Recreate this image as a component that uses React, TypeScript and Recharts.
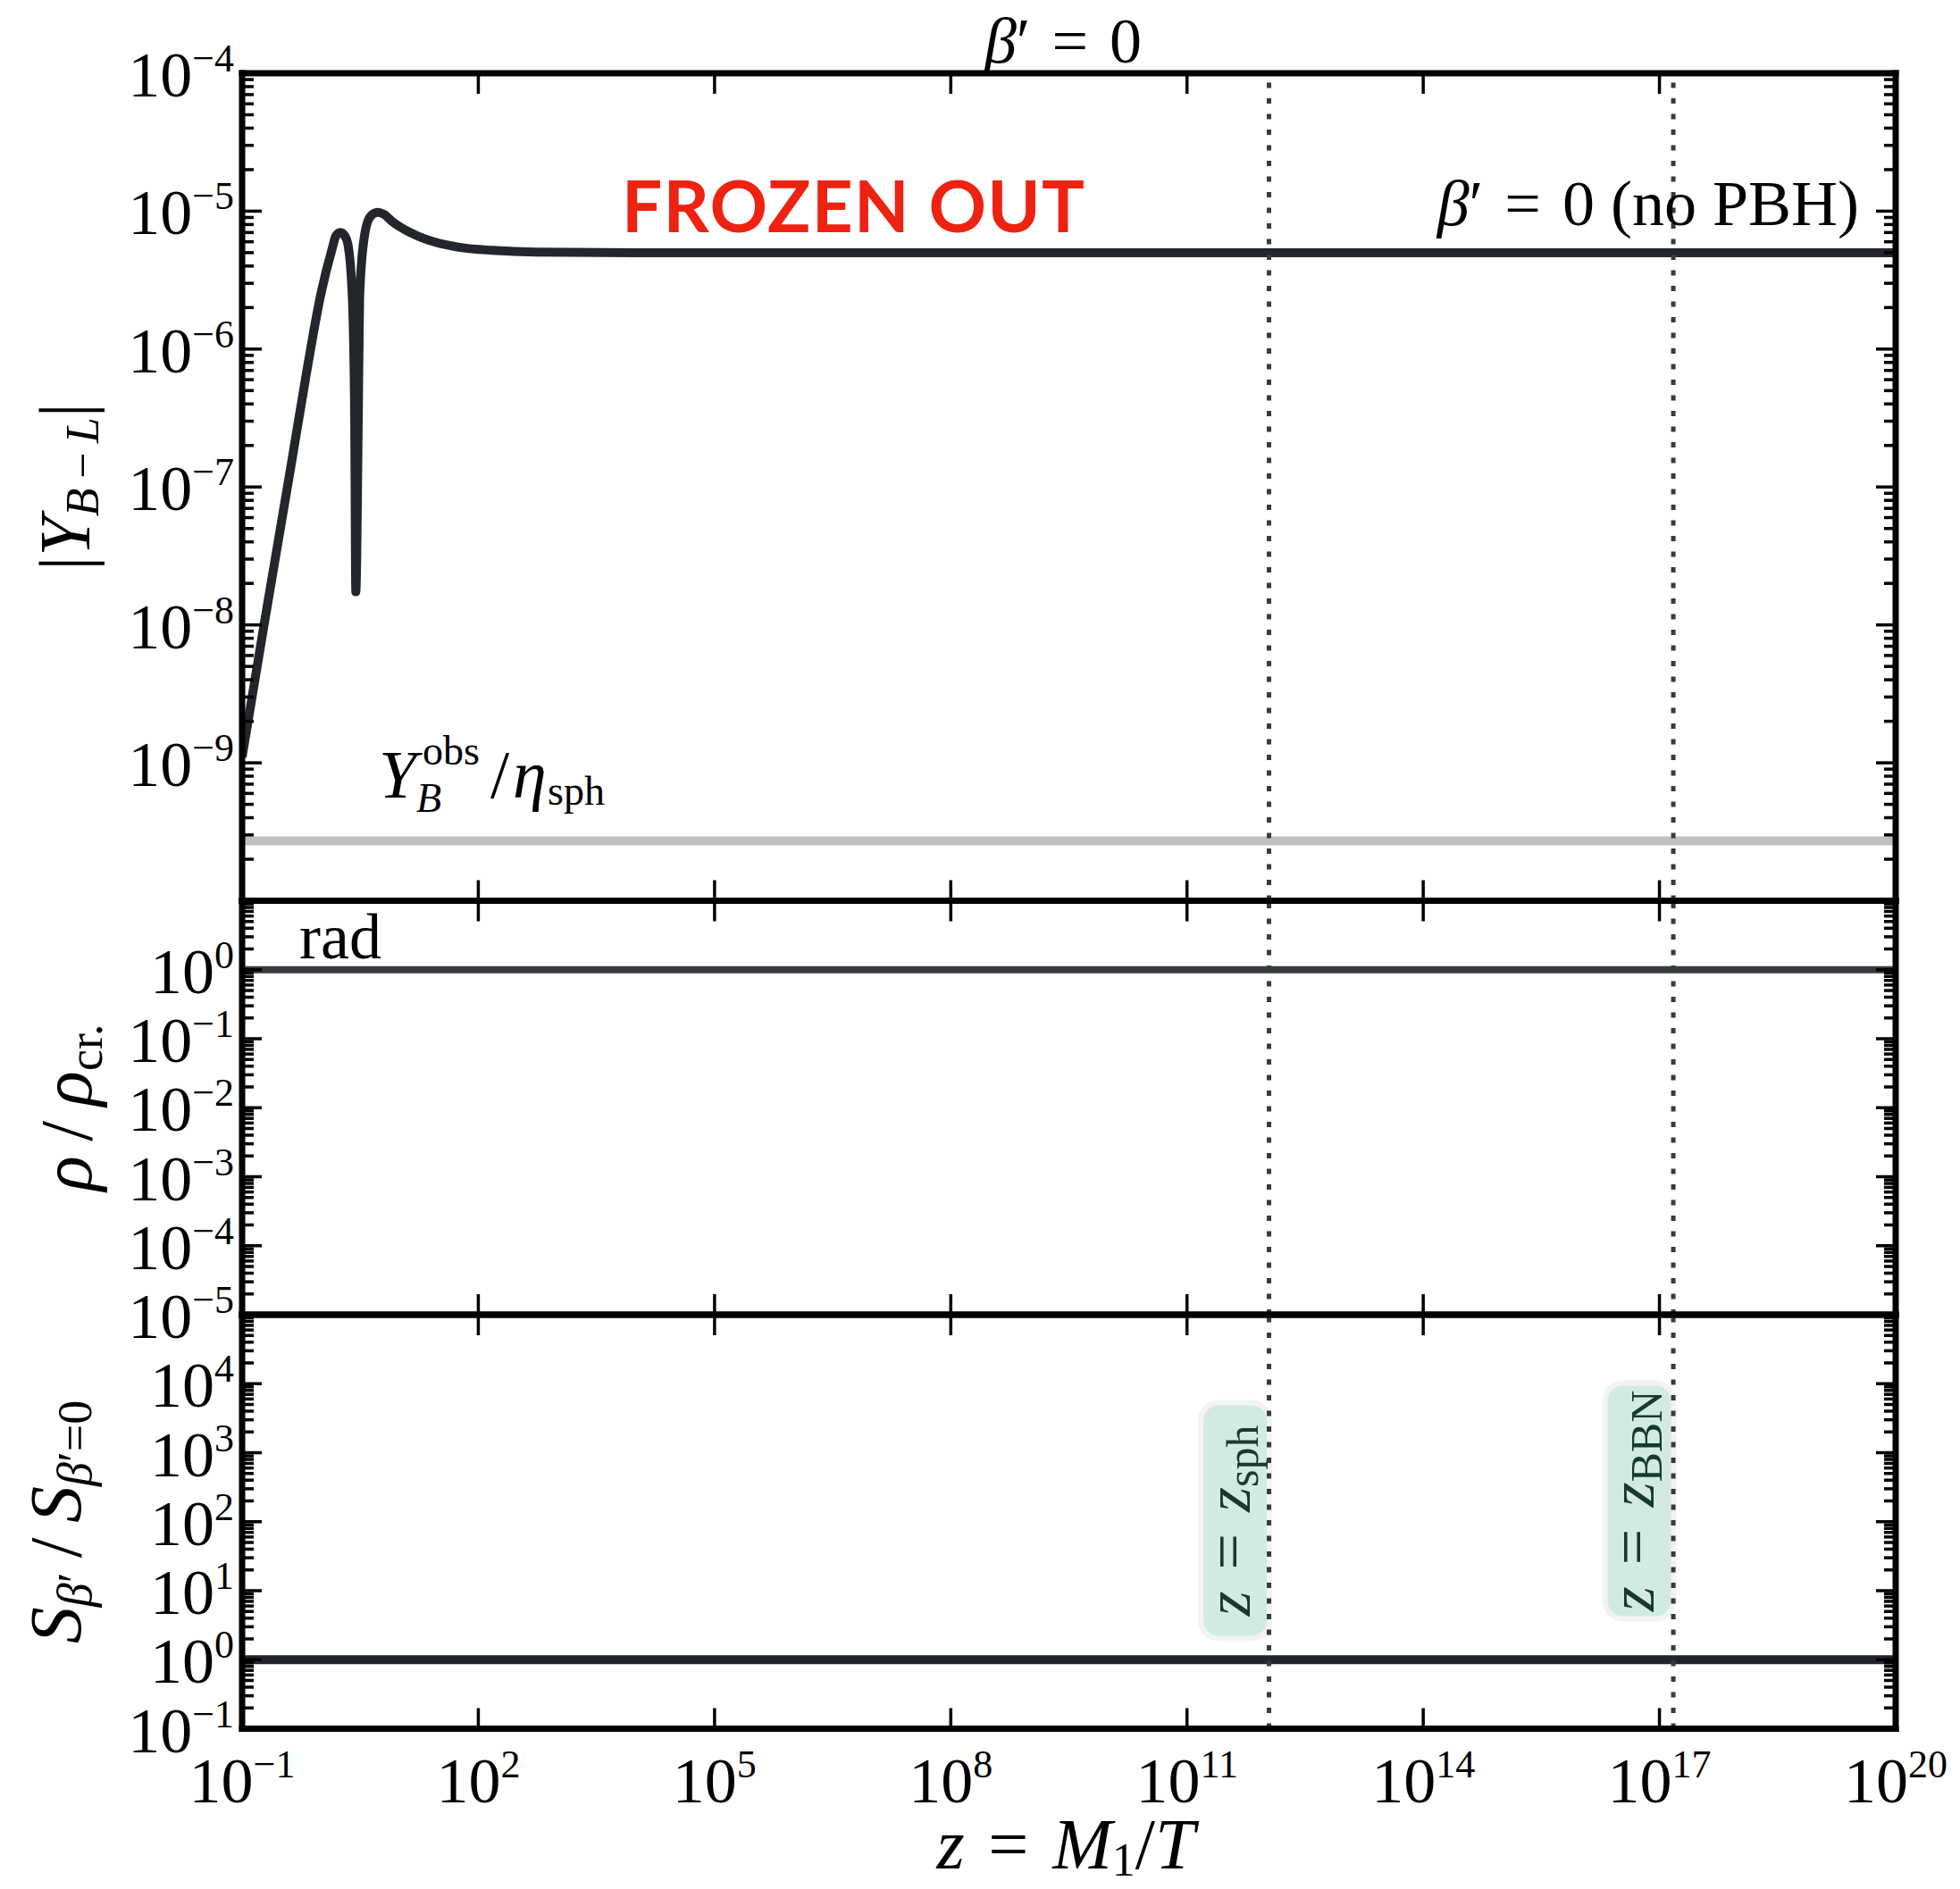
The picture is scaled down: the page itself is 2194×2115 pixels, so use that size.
import React from 'react';
import { LineChart, Line, XAxis, YAxis, ReferenceLine } from 'recharts';

// ---- layout (pixels) ----
const W = 2194;
const H = 2115;
const FRAME_RIGHT = 2122;
const Y_AXIS_W = 271;
const PANEL_TOP = [82, 1008.5, 1472];
const PANEL_BOTTOM = [1008.5, 1472, 1935.5];

const SERIF = "'Liberation Serif', 'Times New Roman', 'DejaVu Serif', serif";
const SANS = "Lato, 'Open Sans', 'Liberation Sans', sans-serif";

// ---- x axis: z = M1/T ----
const X_DOMAIN: [number, number] = [1e-1, 1e20];
const X_TICK_EXPONENTS = [-1, 2, 5, 8, 11, 14, 17, 20];

// ---- top panel: |Y_{B-L}| ----
const Z_YBL = [0.1, 0.19, 0.42, 0.645, 1.0, 1.41, 1.55, 1.77, 2.02, 2.2, 2.51, 2.69, 2.78, 2.99, 3.11, 3.55, 4.23, 5.25, 6.3, 8.1, 16, 30, 60, 150, 530, 1e4, 1e20];
const Y_BL = [1.1e-9, 1.0e-8, 1.45e-7, 6.3e-7, 2.5e-6, 5.5e-6, 6.6e-6, 7.0e-6, 6.6e-6, 5.8e-6, 2.4e-6, 3.2e-7, 1.74e-8, 3.2e-7, 2.4e-6, 6.4e-6, 9.1e-6, 9.8e-6, 9.5e-6, 8.4e-6, 6.7e-6, 5.9e-6, 5.45e-6, 5.2e-6, 5.05e-6, 5.0e-6, 5.0e-6];
const Y_OBS_OVER_ETA = 2.72e-10;
const P1_Y_RANGE = [-10, -4];
const P1_Y_LABELS = [-9, -8, -7, -6, -5, -4];

// ---- middle panel: rho / rho_cr ----
const Z_RAD = [0.1, 1e20];
const RHO_RAD = [1, 1];
const P2_Y_RANGE = [-5, 1];
const P2_Y_LABELS = [-5, -4, -3, -2, -1, 0];

// ---- bottom panel: S_beta' / S_beta'=0 ----
const Z_S = [0.1, 1e20];
const S_RATIO = [1, 1];
const P3_Y_RANGE = [-1, 5];
const P3_Y_LABELS = [-1, 0, 1, 2, 3, 4];

// ---- epochs ----
const Z_SPH = 1.1e12;
const Z_BBN = 1.5e17;

const pow10 = (e: number) => Number(`1e${e}`);
const X_TICKS = X_TICK_EXPONENTS.map(pow10);

const logTicks = (lo: number, hi: number) => {
  const t: number[] = [];
  for (let e = lo; e < hi; e++) {
    t.push(pow10(e));
    for (let m = 2; m <= 9; m++) t.push(Number(`${m}e${e}`));
  }
  t.push(pow10(hi));
  return t;
};

const zip = (xs: number[], ys: number[]) => xs.map((z, i) => ({ z, y: ys[i] }));
const curveData = zip(Z_YBL, Y_BL);
const radData = zip(Z_RAD, RHO_RAD);
const sData = zip(Z_S, S_RATIO);

const isMajor = (v: number) => {
  const l = Math.log10(v);
  return Math.abs(l - Math.round(l)) < 1e-6;
};
const supText = (e: number) => (e < 0 ? `\u2212${-e}` : `${e}`);

const PowLabel = ({ x, y, exp, anchor }: { x: number; y: number; exp: number; anchor: 'start' | 'middle' | 'end' }) => (
  <text x={x} y={y} textAnchor={anchor} fontFamily={SERIF} fill="#000" fontSize={72}>
    10<tspan fontSize={44} dy={-28}>{supText(exp)}</tspan>
  </text>
);

const TICK_W = 3.5;
const MAJOR_LEN = 22;
const MINOR_LEN = 13;
const SPINE = { stroke: '#000', strokeWidth: 7, strokeLinecap: 'square' as const };

const leftTick = (labels: number[]) => (props: any) => {
  const { x, y, payload } = props;
  const v = payload.value;
  const major = isMajor(v);
  const exp = Math.round(Math.log10(v));
  return (
    <g>
      <line x1={x} y1={y} x2={x + (major ? MAJOR_LEN : MINOR_LEN)} y2={y} stroke="#000" strokeWidth={TICK_W} />
      {major && labels.includes(exp) ? <PowLabel x={x - 9} y={y + 26} exp={exp} anchor="end" /> : null}
    </g>
  );
};

const rightTick = (props: any) => {
  const { x, y, payload } = props;
  const major = isMajor(payload.value);
  return <line x1={x} y1={y} x2={x - (major ? MAJOR_LEN : MINOR_LEN)} y2={y} stroke="#000" strokeWidth={TICK_W} />;
};

const bottomTick = (withLabels: boolean) => (props: any) => {
  const { x, y, payload } = props;
  const exp = Math.round(Math.log10(payload.value));
  return (
    <g>
      <line x1={x} y1={y} x2={x} y2={y - 23} stroke="#000" strokeWidth={TICK_W} />
      {withLabels ? <PowLabel x={x} y={y + 82} exp={exp} anchor="middle" /> : null}
    </g>
  );
};

const topTick = (props: any) => {
  const { x, y } = props;
  return <line x1={x} y1={y} x2={x} y2={y + 23} stroke="#000" strokeWidth={TICK_W} />;
};

const DOT_STYLE = { stroke: '#3a3a3a', strokeWidth: 5, strokeDasharray: '6 11.5' };

// dotted epoch marker with an optional rotated tag sitting against it
const epochShape = (sub: string | null, lift: number) => (p: any) => {
  const { x1, y1, x2, y2 } = p;
  const lineX = x1;
  const plotBottom = Math.max(y1, y2);
  const boxW = 77;
  const boxH = 264;
  const boxRight = lineX + 0.5;
  const boxBottom = plotBottom - lift;
  return (
    <g>
      {sub ? (
        <g>
          <rect x={boxRight - boxW} y={boxBottom - boxH} width={boxW} height={boxH} rx={20} ry={20} fill="#d2ebe2" stroke="#f3f3f3" strokeWidth={6} />
          <text
            transform={`translate(${lineX - 22},${boxBottom - boxH / 2}) rotate(-90)`}
            textAnchor="middle"
            fontFamily={SERIF}
            fontSize={72}
            fill="#173a2b"
          >
            <tspan fontStyle="italic">z</tspan>
            <tspan>{'\u2004=\u2004'}</tspan>
            <tspan fontStyle="italic">z</tspan>
            <tspan fontSize={50} dy={9}>{sub}</tspan>
          </text>
        </g>
      ) : null}
      <line x1={x1} y1={y1} x2={x2} y2={y2} {...DOT_STYLE} />
    </g>
  );
};

type PanelProps = {
  index: number;
  yRange: number[];
  yLabels: number[];
  xLabels: boolean;
  children: React.ReactNode;
};

// Axes are given a 1px band (a zero-sized axis is not rendered); margins absorb it.
function Panel({ index, yRange, yLabels, xLabels, children }: PanelProps) {
  const top = PANEL_TOP[index];
  const bottom = PANEL_BOTTOM[index];
  const yDomain: [number, number] = [pow10(yRange[0]), pow10(yRange[1])];
  const yTicks = logTicks(yRange[0], yRange[1]);
  return (
    <div style={{ position: 'absolute', left: 0, top: 0 }}>
      <LineChart width={W} height={H} margin={{ top: top - 1, bottom: H - bottom - 1, left: 0, right: W - FRAME_RIGHT - 1 }}>
        <XAxis
          xAxisId="b"
          dataKey="z"
          type="number"
          scale="log"
          domain={X_DOMAIN}
          allowDataOverflow
          ticks={X_TICKS}
          interval={0}
          orientation="bottom"
          height={1}
          tickSize={0}
          tickMargin={0}
          tickLine={false}
          axisLine={SPINE}
          tick={bottomTick(xLabels)}
        />
        <XAxis
          xAxisId="t"
          dataKey="z"
          type="number"
          scale="log"
          domain={X_DOMAIN}
          allowDataOverflow
          ticks={X_TICKS}
          interval={0}
          orientation="top"
          height={1}
          tickSize={0}
          tickMargin={0}
          tickLine={false}
          axisLine={SPINE}
          tick={topTick}
        />
        <YAxis
          yAxisId="l"
          type="number"
          scale="log"
          domain={yDomain}
          allowDataOverflow
          ticks={yTicks}
          interval={0}
          orientation="left"
          width={Y_AXIS_W}
          tickSize={0}
          tickMargin={0}
          tickLine={false}
          axisLine={SPINE}
          tick={leftTick(yLabels)}
        />
        <YAxis
          yAxisId="r"
          type="number"
          scale="log"
          domain={yDomain}
          allowDataOverflow
          ticks={yTicks}
          interval={0}
          orientation="right"
          width={1}
          tickSize={0}
          tickMargin={0}
          tickLine={false}
          axisLine={SPINE}
          tick={rightTick}
        />
        {children}
      </LineChart>
    </div>
  );
}

export default function App() {
  return (
    <div style={{ position: 'absolute', left: 0, top: 0, width: W, height: H, background: '#fff', overflow: 'hidden' }}>
      {/* |Y_{B-L}| */}
      <Panel index={0} yRange={P1_Y_RANGE} yLabels={P1_Y_LABELS} xLabels={false}>
        <ReferenceLine xAxisId="b" yAxisId="l" y={Y_OBS_OVER_ETA} stroke="#c0c0c0" strokeWidth={10} />
        <Line
          xAxisId="b"
          yAxisId="l"
          data={curveData}
          dataKey="y"
          type="monotone"
          stroke="#23262a"
          strokeWidth={10}
          strokeLinejoin="round"
          dot={false}
          isAnimationActive={false}
        />
        <ReferenceLine xAxisId="b" yAxisId="l" x={Z_SPH} shape={epochShape(null, 0)} />
        <ReferenceLine xAxisId="b" yAxisId="l" x={Z_BBN} shape={epochShape(null, 0)} />
      </Panel>

      {/* rho / rho_cr */}
      <Panel index={1} yRange={P2_Y_RANGE} yLabels={P2_Y_LABELS} xLabels={false}>
        <Line xAxisId="b" yAxisId="l" data={radData} dataKey="y" type="linear" stroke="#373b40" strokeWidth={8} dot={false} isAnimationActive={false} />
        <ReferenceLine xAxisId="b" yAxisId="l" x={Z_SPH} shape={epochShape(null, 0)} />
        <ReferenceLine xAxisId="b" yAxisId="l" x={Z_BBN} shape={epochShape(null, 0)} />
      </Panel>

      {/* entropy ratio */}
      <Panel index={2} yRange={P3_Y_RANGE} yLabels={P3_Y_LABELS} xLabels>
        <Line xAxisId="b" yAxisId="l" data={sData} dataKey="y" type="linear" stroke="#222528" strokeWidth={10} dot={false} isAnimationActive={false} />
        <ReferenceLine xAxisId="b" yAxisId="l" x={Z_SPH} shape={epochShape('sph', 101)} />
        <ReferenceLine xAxisId="b" yAxisId="l" x={Z_BBN} shape={epochShape('BBN', 123)} />
      </Panel>

      <svg width={W} height={H} style={{ position: 'absolute', left: 0, top: 0 }} fontFamily={SERIF} fill="#000">
        {/* title */}
        <text x={1190} y={70} textAnchor="middle" fontSize={72}>
          <tspan fontStyle="italic">β</tspan>
          <tspan>{'\u2032\u2004=\u20040'}</tspan>
        </text>

        <text x={696} y={260} fontFamily={SANS} fontWeight={700} fontSize={80} fill="#ee2211" textLength={518} lengthAdjust="spacing">
          FROZEN OUT
        </text>

        <text x={2081} y={252} textAnchor="end" fontSize={72}>
          <tspan fontStyle="italic">β</tspan>
          <tspan>{'\u2032\u2004=\u20040 (no PBH)'}</tspan>
        </text>

        {/* observed asymmetry label */}
        <text x={424} y={893} fontSize={76} fontStyle="italic">Y</text>
        <text x={473} y={856} fontSize={46}>obs</text>
        <text x={466} y={909} fontSize={46} fontStyle="italic">B</text>
        <text x={549} y={893} fontSize={76}>/</text>
        <text x={574} y={893} fontSize={76} fontStyle="italic">η</text>
        <text x={613} y={901} fontSize={46}>sph</text>

        <text x={335} y={1073} fontSize={72}>rad</text>

        {/* y-axis titles */}
        <text transform="translate(100,545) rotate(-90)" textAnchor="middle" fontSize={80}>
          <tspan>|</tspan>
          <tspan fontStyle="italic">Y</tspan>
          <tspan fontSize={52} dy={10} fontStyle="italic">B</tspan>
          <tspan fontSize={52}>{'\u2009\u2212\u2009'}</tspan>
          <tspan fontSize={52} fontStyle="italic">L</tspan>
          <tspan dy={-10}>|</tspan>
        </text>

        <text transform="translate(102,1240) rotate(-90)" textAnchor="middle" fontSize={82}>
          <tspan fontStyle="italic">ρ</tspan>
          <tspan>{'\u2009/\u2009'}</tspan>
          <tspan fontStyle="italic">ρ</tspan>
          <tspan fontSize={54} dy={12}>cr.</tspan>
        </text>

        <text transform="translate(90,1704) rotate(-90)" textAnchor="middle" fontSize={82}>
          <tspan fontStyle="italic">S</tspan>
          <tspan fontSize={54} dy={12} fontStyle="italic">β</tspan>
          <tspan fontSize={54}>{'\u2032'}</tspan>
          <tspan dy={-12}>{'\u2009/\u2009'}</tspan>
          <tspan fontStyle="italic">S</tspan>
          <tspan fontSize={54} dy={12} fontStyle="italic">β</tspan>
          <tspan fontSize={54}>{'\u2032=0'}</tspan>
        </text>

        {/* x-axis title */}
        <text x={1193} y={2092} textAnchor="middle" fontSize={80}>
          <tspan fontStyle="italic">z</tspan>
          <tspan>{'\u2004=\u2004'}</tspan>
          <tspan fontStyle="italic">M</tspan>
          <tspan fontSize={52} dy={8}>1</tspan>
          <tspan dy={-8}>/</tspan>
          <tspan fontStyle="italic">T</tspan>
        </text>
      </svg>
    </div>
  );
}
